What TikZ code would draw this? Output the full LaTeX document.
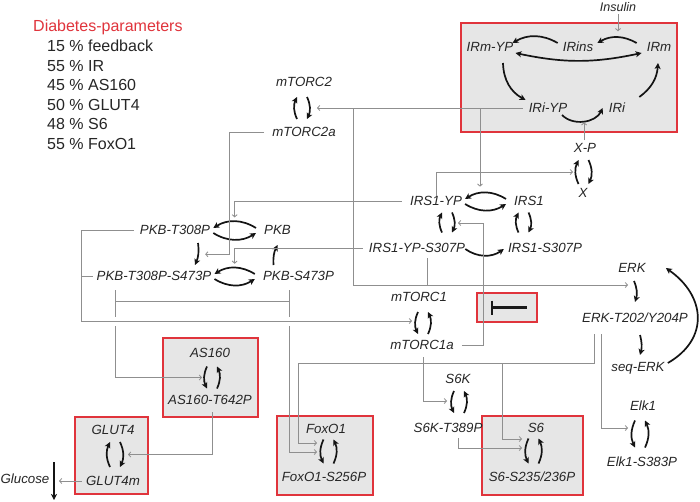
\documentclass[tikz,border=0pt]{standalone}
\usepackage{fontspec}
\setmainfont{Liberation Sans}
\usetikzlibrary{arrows.meta,calc}
\definecolor{txt}{HTML}{262626}
\definecolor{rd}{HTML}{E0343C}
\definecolor{boxfill}{HTML}{E6E6E6}
\definecolor{gline}{HTML}{8F8F8F}
\newcommand\pairUD[2]{%
  \draw[rx] ($(#1)+(-5,#2)$) to[bend left=25] ($(#1)+(-5,-#2)$);
  \draw[rx] ($(#1)+(5,-#2)$) to[bend left=25] ($(#1)+(5,#2)$);}
\newcommand\pairDU[2]{%
  \draw[rx] ($(#1)+(-5,-#2)$) to[bend right=25] ($(#1)+(-5,#2)$);
  \draw[rx] ($(#1)+(5,#2)$) to[bend right=25] ($(#1)+(5,-#2)$);}
\begin{document}
\begin{tikzpicture}[x=1pt,y=-1pt,
  lbl/.style={font=\fontsize{13.3}{16}\selectfont\itshape, text=txt, inner sep=0pt, text height=9.6pt, text depth=0pt},
  lbls/.style={lbl, font=\fontsize{12.5}{15}\selectfont\itshape},
  leg/.style={font=\fontsize{16}{19}\selectfont, text=txt, inner sep=0pt, text height=11.5pt, text depth=0pt, anchor=west},
  rbox/.style={draw=rd, line width=1.4pt, fill=boxfill, inner sep=0pt, rectangle},
  rx/.style={draw=black!92, line width=1.7pt, -{Stealth[length=6pt,width=6pt,inset=1.6pt]}},
  rxx/.style={rx, {Stealth[length=6pt,width=6pt,inset=1.6pt]}-{Stealth[length=6pt,width=6pt,inset=1.6pt]}},
  gl/.style={draw=gline, line width=0.85pt},
  ga/.style={gl, -{Straight Barb[length=2.2pt,width=5pt]}},
  inh/.style={draw=black!90, line width=2.4pt},
]
\fill[white] (0,0) rectangle (700,501);
\useasboundingbox (0,0) rectangle (700,501);

% ---------- boxes ----------
\node[rbox, minimum width=216pt, minimum height=109pt] (irbox) at (569,77.5) {};
\node[rbox, minimum width=60pt, minimum height=29pt] (inhbox) at (507,307.5) {};
\node[rbox, minimum width=95pt, minimum height=79pt] (asbox) at (210.5,377.5) {};
\node[rbox, minimum width=73pt, minimum height=77pt] (glbox) at (111.5,455.5) {};
\node[rbox, minimum width=96pt, minimum height=79pt] (foxbox) at (325,455.5) {};
\node[rbox, minimum width=101pt, minimum height=79pt] (sixbox) at (532.5,455.5) {};

% ---------- legend ----------
\node[leg, text=rd] (legT) at (33,26) {Diabetes-parameters};
\node[leg] (leg1) at (47,46) {15 \% feedback};
\node[leg] (leg2) at (47,65.5) {55 \% IR};
\node[leg] (leg3) at (47,85) {45 \% AS160};
\node[leg] (leg4) at (47,104.5) {50 \% GLUT4};
\node[leg] (leg5) at (47,124) {48 \% S6};
\node[leg] (leg6) at (47,143.5) {55 \% FoxO1};

% ---------- labels ----------
\node[lbls] (insulin) at (618,7) {Insulin};
\node[lbl] (IRmYP) at (490,47) {IRm-YP};
\node[lbl] (IRins) at (578,47) {IRins};
\node[lbl] (IRm) at (659,47) {IRm};
\node[lbl] (IRiYP) at (548,108) {IRi-YP};
\node[lbl] (IRi) at (617,108) {IRi};
\node[lbl] (mTORC2) at (304,82) {mTORC2};
\node[lbl] (mTORC2a) at (304,132) {mTORC2a};
\node[lbl] (XP) at (585,148) {X-P};
\node[lbl] (X) at (583,193) {X};
\node[lbl] (IRS1YP) at (436,201) {IRS1-YP};
\node[lbl] (IRS1) at (529,201) {IRS1};
\node[lbl] (IRS1YPS) at (417,248) {IRS1-YP-S307P};
\node[lbl] (IRS1S) at (545,248) {IRS1-S307P};
\node[lbl] (PKBT) at (175,230) {PKB-T308P};
\node[lbl] (PKB) at (277.5,230) {PKB};
\node[lbl] (PKBTS) at (154,276) {PKB-T308P-S473P};
\node[lbl] (PKBS) at (298.5,276) {PKB-S473P};
\node[lbl] (mTORC1) at (419,297) {mTORC1};
\node[lbl] (mTORC1a) at (422,345) {mTORC1a};
\node[lbl] (ERK) at (632,268) {ERK};
\node[lbl] (ERKT) at (635,318) {ERK-T202/Y204P};
\node[lbl] (seqERK) at (638,367) {seq-ERK};
\node[lbl] (AS160) at (210,353) {AS160};
\node[lbl] (AS160T) at (210,400) {AS160-T642P};
\node[lbl] (S6K) at (458,379) {S6K};
\node[lbl] (S6KT) at (448,428) {S6K-T389P};
\node[lbl] (Elk1) at (643,406) {Elk1};
\node[lbl] (Elk1S) at (642,462) {Elk1-S383P};
\node[lbl] (GLUT4) at (113,430) {GLUT4};
\node[lbl] (GLUT4m) at (113,481) {GLUT4m};
\node[lbl] (FoxO1) at (326,429) {FoxO1};
\node[lbl] (FoxO1S) at (324,477) {FoxO1-S256P};
\node[lbl] (S6) at (536,428) {S6};
\node[lbl] (S6S) at (532,477) {S6-S235/236P};
\node[lbl] (glucose) at (25,479) {Glucose};

% ---------- reaction pair centres ----------
\coordinate (pM2) at (302,108);
\coordinate (pIRSa) at (447,222.5);
\coordinate (pIRSb) at (523.5,222.5);
\coordinate (pX) at (583.5,172);
\coordinate (pM1) at (423,323);
\coordinate (pAS) at (212,377.5);
\coordinate (pGL) at (115,454.5);
\coordinate (pFox) at (328.5,451.5);
\coordinate (pS6K) at (459,402);
\coordinate (pS6) at (533.5,451);
\coordinate (pElk) at (640,434);

\pairUD{pM2}{11}
\pairUD{pIRSa}{10}
\pairUD{pIRSb}{10}
\pairUD{pX}{12}
\pairDU{pM1}{11}
\pairDU{pAS}{11}
\pairUD{pGL}{12.5}
\pairDU{pFox}{12}
\pairDU{pS6K}{11}
\pairDU{pS6}{12.5}
\pairDU{pElk}{13.5}

% ---------- IR box reactions ----------
\draw[rx] ($(IRins.west)+(-5,-4)$) to[bend right=30] ($(IRmYP.east)+(-1,-4)$);
\draw[rx] ($(IRm.west)+(-10,-4)$) to[bend right=30] node[coordinate,pos=.5] (cIRb) {} ($(IRins.east)+(4,-4)$);
\draw[rxx] ($(IRmYP.east)+(2,6)$) to[bend right=12] ($(IRm.west)+(-5,6)$);
\draw[rx] ($(IRmYP.south)+(13,11)$) to[bend right=30] ($(IRiYP.west)+(-3,-8)$);
\draw[rx] ($(IRiYP.south)+(14,2)$) to[bend right=55] node[coordinate,pos=.5] (cIRe) {} ($(IRi.west)+(-6,0)$);
\draw[rx] ($(IRi.east)+(14,-11)$) to[bend right=25] ($(IRm.south)+(-1,11)$);

% ---------- other reactions ----------
\draw[rx] ($(IRS1.west)+(-8,-2)$) to[bend right=32] node[coordinate,pos=.5] (cIRSup) {} ($(IRS1YP.east)+(3,-2)$);
\draw[rx] ($(IRS1YP.east)+(3,3)$) to[bend right=32] ($(IRS1.west)+(-8,3)$);
\draw[rx] ($(IRS1YPS.east)+(0,1)$) to[bend right=35] ($(IRS1S.west)+(-4,1)$);
\draw[rx] ($(PKB.west)+(-8,-2)$) to[bend right=32] node[coordinate,pos=.5] (cPKBu) {} ($(PKBT.east)+(3,-2)$);
\draw[rx] ($(PKBT.east)+(3,3)$) to[bend right=32] ($(PKB.west)+(-8,3)$);
\draw[rx] ($(PKBS.west)+(-8,-2)$) to[bend right=32] node[coordinate,pos=.5] (cPKBSu) {} ($(PKBTS.east)+(3,-2)$);
\draw[rx] ($(PKBTS.east)+(3,3)$) to[bend right=32] ($(PKBS.west)+(-8,3)$);
\draw[rx] ($(PKBT.south)+(23,8)$) to[bend left=15] node[coordinate,pos=.5] (cPKBv) {} ($(PKBTS.north)+(41,-6)$);
\draw[rx] ($(PKBS.north)+(-25,-6)$) to[bend left=15] ($(PKB.south)+(0,10)$);
\draw[rx] ($(ERK.south)+(2,8)$) to[bend left=20] ($(ERKT.north)+(0,-11)$);
\draw[rx] ($(ERKT.south)+(5,12)$) to[bend left=15] ($(seqERK.north)+(2,-7)$);
\draw[rx] ($(seqERK.east)+(3,-4)$) to[out=30,in=-35,looseness=1.3] ($(ERK.east)+(20,0)$);
\coordinate (glcTop) at (54,462);
\coordinate (glcBot) at (54,500);
\draw[rx] (glcTop) -- (glcBot);

% inhibition symbol
\draw[inh] ($(inhbox.center)+(-15,-7)$) -- ($(inhbox.center)+(-15,7)$);
\draw[inh] ($(inhbox.center)+(-15,0)$) -- ($(inhbox.center)+(20,0)$);

% ---------- tips and junctions ----------
\coordinate (tM2) at ($(pM2)+(15,0)$);
\coordinate (tIRSv) at ($(pIRSa)+(11,0.5)$);
\coordinate (tX) at ($(pX)+(-10.5,0)$);
\coordinate (tM1) at ($(pM1)+(-11,-2)$);
\coordinate (tAS) at ($(pAS)+(-10,0)$);
\coordinate (tGL) at ($(pGL)+(13,0)$);
\coordinate (tFoxU) at ($(pFox)+(-11.5,-8.5)$);
\coordinate (tFoxL) at ($(pFox)+(-11.5,0.5)$);
\coordinate (tS6K) at ($(pS6K)+(-12,-1)$);
\coordinate (tS6U) at ($(pS6)+(-11.5,-12)$);
\coordinate (tS6L) at ($(pS6)+(-11.5,-3)$);
\coordinate (tElk) at ($(pElk)+(-12,-6)$);
\coordinate (tERK) at (628,285);
\coordinate (tPKBup) at ($(cPKBu)+(0,-4)$);
\coordinate (tPKBSup) at ($(cPKBSu)+(0,-4)$);
\coordinate (tPKBT) at ($(cPKBv)+(7,0)$);
\coordinate (tGlc) at (59,481);

% ---------- grey influence lines ----------
\draw[ga, shorten <=2pt, shorten >=6pt] (insulin) -- (insulin |- cIRb);
\draw[ga, shorten <=3pt, shorten >=1pt] (cIRe |- XP.north) -- (cIRe);

\coordinate (s3) at ($(IRiYP.west)+(-6,0)$);
\draw[ga] (s3) -- (s3 -| tM2);
\coordinate (j1) at (480,108);
\draw[ga, shorten >=6pt] (j1) -- (j1 |- cIRSup);
\coordinate (j2) at (353,108);
\draw[ga] (j2) |- (tERK);
\coordinate (s7) at ($(IRS1YPS.south)+(10,5)$);
\draw[gl] (s7) -- (s7 |- tERK);

\draw[ga] (IRS1YP.north) |- (tX);
\draw[ga] ($(IRS1YP.west)+(-8,0)$) -| (tPKBup);
\draw[ga] ($(IRS1YPS.west)+(-6,0)$) -| (tPKBSup);

\coordinate (j9) at ($(tPKBT)+(24,0)$);
\draw[ga] ($(mTORC2a.west)+(-8,0)$) -| (j9) -- (tPKBT);

\coordinate (j10) at (81,321);
\draw[ga] ($(PKBT.west)+(-6,0)$) -| (j10) -- (j10 -| tM1);
\coordinate (s10) at ($(PKBTS.west)+(-4,0)$);
\draw[gl] (s10) -- (s10 -| j10);

\coordinate (b1) at ($(PKBTS.south)+(-39,9)$);
\coordinate (b2) at ($(PKBS.south)+(-9.5,9)$);
\coordinate (jb1) at (115,301);
\coordinate (jb2) at (289,301);
\draw[gl] (b1) -- (jb1) -- (jb2) -- (b2);
\draw[gl] (jb1) -- ($(jb1)+(0,16)$);
\draw[ga] ($(jb1)+(0,25)$) |- (tAS);
\draw[gl] (jb2) -- ($(jb2)+(0,16)$);
\draw[ga] ($(jb2)+(0,25)$) |- (tFoxL);

\coordinate (s12) at ($(mTORC1a.east)+(8,0)$);
\coordinate (j12) at ($(tIRSv)+(25,0)$);
\draw[ga] (s12) -| (j12) -- (tIRSv);

\coordinate (s13) at ($(ERKT.south)+(-41,11)$);
\coordinate (j13) at (298,363);
\draw[ga] (s13) |- (j13) |- (tFoxU);
\coordinate (j13b) at (502,363);
\draw[ga] (j13b) |- (tS6U);
\coordinate (s14) at ($(ERKT.south)+(-34,11)$);
\draw[ga] (s14) |- (tElk);

\coordinate (s15) at ($(mTORC1a.south)+(1,7)$);
\draw[ga] (s15) |- (tS6K);
\coordinate (s16) at ($(S6KT.south)+(10,5)$);
\draw[ga] (s16) |- (tS6L);
\coordinate (s17) at ($(AS160T.south)+(2,7)$);
\draw[ga] (s17) |- (tGL);
\coordinate (s18) at ($(GLUT4m.west)+(-4,0)$);
\draw[ga] (s18) -- (s18 -| tGlc);
\end{tikzpicture}
\end{document}
